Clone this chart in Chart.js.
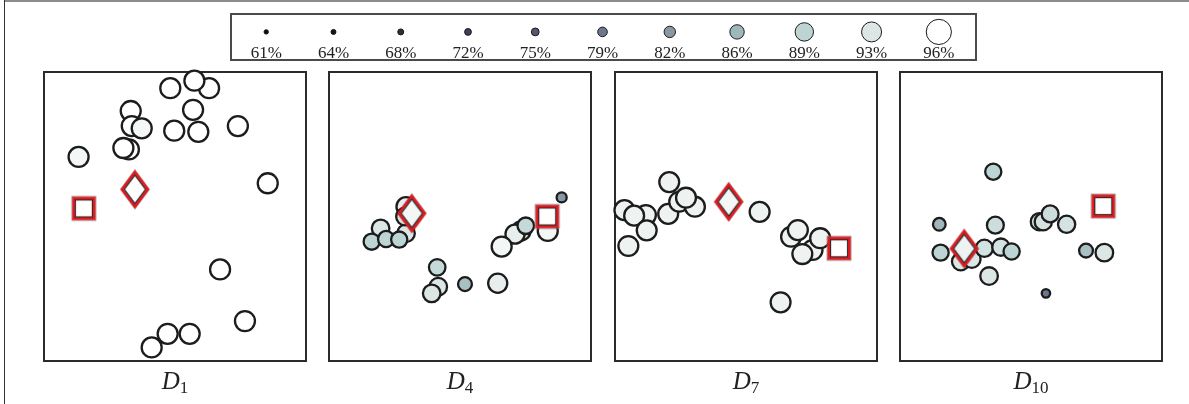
<!DOCTYPE html>
<html><head><meta charset="utf-8">
<script src="https://cdn.jsdelivr.net/npm/chart.js@4.4.1/dist/chart.umd.min.js"></script>
<style>
html,body{margin:0;padding:0;background:#fff;}
#fig{position:relative;width:1189px;height:404px;overflow:hidden;background:#fff;}
.frameTop{position:absolute;left:4px;top:0;width:1185px;height:2px;background:#8c8c8c;}
.frameLeft{position:absolute;left:4px;top:0;width:1px;height:404px;background:#333;}
#legendBox{position:absolute;left:230px;top:13px;width:747px;height:48px;border:2px solid #4a4a4a;box-sizing:border-box;}
.cv{position:absolute;}
.dlab{position:absolute;top:366px;height:30px;line-height:30px;width:262px;text-align:center;font-family:'Liberation Serif','Times New Roman',serif;font-style:italic;font-size:25px;color:#222;white-space:nowrap;}
.dlab sub{font-style:normal;font-size:17px;vertical-align:-4px;line-height:0;}
</style></head>
<body><div id="fig"><div class="frameTop"></div><div class="frameLeft"></div><div id="legendBox"></div></div>
<script>
// ---- legend bins ----
const legendLevels = [61, 64, 68, 72, 75, 79, 82, 86, 89, 93, 96];
const legendLabels = ['61%', '64%', '68%', '72%', '75%', '79%', '82%', '86%', '89%', '93%', '96%'];
const legendColors = ['#0a0a0a', '#15151c', '#2d2d3e', '#3f4058', '#55566f', '#6d778d', '#8898a4', '#9fb6bb', '#bdd4d4', '#dce6e5', '#ffffff'];
const legendRadii = [2.2, 2.5, 3, 3.4, 3.9, 4.8, 5.7, 7.2, 9.2, 10, 12.6];

// ---- panels (x, y in 0..100 of each panel, value in %) ----
const panelNames = ['1', '4', '7', '10'];

const p1X = [63.0, 57.4, 48.2, 56.9, 33.1, 33.5, 37.3, 49.7, 58.9, 74.0, 32.4, 30.3, 13.2, 85.4, 67.2, 76.7, 47.2, 55.6, 41.1];
const p1Y = [94.4, 97.0, 94.4, 86.9, 86.5, 81.3, 80.5, 79.7, 79.3, 81.3, 73.2, 73.7, 70.6, 61.5, 31.7, 13.8, 9.4, 9.4, 4.7];
const p1V = [96, 96, 96, 96, 96, 96, 95, 96, 96, 96, 96, 96, 95, 96, 96, 96, 96, 96, 96];

const p2X = [19.7, 16.3, 21.8, 29.4, 26.8, 29.4, 29.0, 88.8, 83.5, 73.3, 71.0, 75.1, 65.9, 41.3, 41.7, 39.2, 51.9, 64.4];
const p2Y = [45.9, 41.3, 42.2, 44.2, 42.0, 53.4, 50.0, 56.6, 45.0, 45.0, 43.9, 46.8, 39.6, 32.4, 25.7, 23.4, 26.6, 26.9];
const p2V = [93, 89, 89, 93, 89, 94, 93, 82, 95, 94, 94, 90, 95, 90, 93, 93, 87, 94];

const p3X = [20.7, 3.6, 11.8, 7.3, 12.1, 5.1, 20.3, 24.5, 30.5, 27.1, 55.2, 67.2, 69.8, 75.4, 78.3, 71.5, 63.2];
const p3Y = [61.9, 52.2, 50.5, 50.3, 45.2, 39.8, 50.9, 55.1, 53.4, 56.5, 51.6, 43.0, 45.3, 38.4, 42.5, 37.0, 20.3];
const p3V = [94.5, 94.5, 94.5, 94.5, 94.5, 94.5, 94.5, 94.5, 94.5, 94.5, 94.5, 94.5, 94.5, 94.5, 94.5, 94.5, 94.5];

const p4X = [35.6, 15.0, 36.4, 53.2, 54.7, 57.3, 63.6, 15.5, 23.2, 27.4, 32.2, 38.5, 42.6, 34.0, 55.7, 71.0, 78.0];
const p4Y = [65.5, 47.3, 47.0, 48.2, 48.2, 50.9, 47.3, 37.5, 34.4, 35.3, 39.0, 39.4, 37.9, 29.4, 23.4, 38.2, 37.5];
const p4V = [89, 86, 91, 92, 92, 91, 92, 89, 93, 93, 92, 92, 89, 93, 79, 87, 93];

const diamondX = [34.7, 31.6, 43.4, 24.5];
const diamondY = [59.4, 51.1, 55.1, 38.9];
const diamondV = [96, 95, 95, 94.5];
const squareX = [15.2, 83.3, 85.5, 77.6];
const squareY = [52.8, 50.0, 39.0, 53.6];

const panelX = [p1X, p2X, p3X, p4X];
const panelY = [p1Y, p2Y, p3Y, p4Y];
const panelV = [p1V, p2V, p3V, p4V];

// ---- style helpers ----
function hexToRgb(h){ return [parseInt(h.slice(1,3),16), parseInt(h.slice(3,5),16), parseInt(h.slice(5,7),16)]; }
function binPos(v){
  if (v <= legendLevels[0]) return [0, 0];
  for (let i = 0; i < legendLevels.length - 1; i++) {
    if (v <= legendLevels[i+1]) return [i, (v - legendLevels[i]) / (legendLevels[i+1] - legendLevels[i])];
  }
  return [legendLevels.length - 2, 1];
}
function colorFor(v){
  const [i, t] = binPos(v);
  const a = hexToRgb(legendColors[i]), b = hexToRgb(legendColors[i+1]);
  const c = a.map((ai, k) => Math.round(ai + (b[k] - ai) * t));
  return 'rgb(' + c.join(',') + ')';
}
function radiusFor(v){
  const [i, t] = binPos(v);
  const r = legendRadii[i] + (legendRadii[i+1] - legendRadii[i]) * t;
  return Math.min(r * 0.88, 10);
}
const RED = '#e4161e';
function diamondPath(g, cx, cy, hw, hh){
  g.beginPath(); g.moveTo(cx, cy - hh); g.lineTo(cx + hw, cy); g.lineTo(cx, cy + hh); g.lineTo(cx - hw, cy); g.closePath();
}
function diamondImg(fill){
  const c = document.createElement('canvas'); c.width = 32; c.height = 42;
  const g = c.getContext('2d');
  const cx = 16, cy = 21;
  g.lineJoin = 'miter'; g.miterLimit = 10;
  diamondPath(g, cx, cy, 12.8, 17.2);
  g.fillStyle = fill; g.fill();
  g.strokeStyle = 'rgba(80,40,40,0.55)'; g.lineWidth = 3.6; g.stroke();
  g.strokeStyle = RED; g.lineWidth = 2.6; g.stroke();
  diamondPath(g, cx, cy, 10.5, 14.2);
  g.strokeStyle = '#2a2a2a'; g.lineWidth = 1.1; g.stroke();
  return c;
}
function squareImg(){
  const c = document.createElement('canvas'); c.width = 28; c.height = 28;
  const g = c.getContext('2d');
  const s0 = 14 - 10.25, s = 20.5;
  g.fillStyle = '#ffffff'; g.fillRect(s0, s0, s, s);
  g.strokeStyle = '#7a7a7a'; g.lineWidth = 1; g.strokeRect(s0 - 1.6, s0 - 1.6, s + 3.2, s + 3.2);
  g.strokeStyle = RED; g.lineWidth = 2.6; g.strokeRect(s0, s0, s, s);
  g.strokeStyle = '#2a2a2a'; g.lineWidth = 1.1; g.strokeRect(s0 + 1.8, s0 + 1.8, s - 3.6, s - 3.6);
  return c;
}

const fig = document.getElementById('fig');
function mkCanvas(left, top, w, h){
  const c = document.createElement('canvas');
  c.width = w; c.height = h; c.className = 'cv';
  c.style.left = left + 'px'; c.style.top = top + 'px'; c.style.width = w + 'px'; c.style.height = h + 'px';
  fig.appendChild(c); return c;
}

const framePlugin = {
  id: 'frame',
  beforeDatasetsDraw(chart){
    const a = chart.chartArea, ctx = chart.ctx;
    ctx.save(); ctx.strokeStyle = '#2b2b2b'; ctx.lineWidth = 2;
    ctx.strokeRect(a.left, a.top, a.right - a.left, a.bottom - a.top);
    ctx.restore();
  }
};

// ---- legend chart ----
const LG_LEFT = 229, LG_W = 748, LG_FIRST = 24.5, LG_STEP = 69.8;
new Chart(mkCanvas(LG_LEFT, 14, LG_W, 48), {
  type: 'scatter',
  data: { datasets: [{
    data: legendLevels.map((_, i) => ({ x: i, y: 0 })),
    pointBackgroundColor: legendColors,
    pointBorderColor: '#1a1a1a',
    pointBorderWidth: 1,
    pointRadius: legendRadii,
    clip: false
  }]},
  options: {
    responsive: false, animation: false, events: [],
    layout: { padding: { left: 0, right: 0, top: 0, bottom: 0 } },
    plugins: { legend: { display: false }, tooltip: { enabled: false } },
    scales: {
      x: {
        type: 'linear', min: -LG_FIRST / LG_STEP, max: (LG_W - LG_FIRST) / LG_STEP,
        afterBuildTicks: s => { s.ticks = legendLevels.map((_, i) => ({ value: i })); },
        ticks: { callback: v => legendLabels[v], autoSkip: false, maxRotation: 0, padding: 0,
                 font: { family: "'Liberation Serif', 'Times New Roman', serif", size: 17, lineHeight: 1 }, color: '#222' },
        grid: { display: false, drawTicks: false }, border: { display: false }
      },
      y: { display: false, min: -1, max: 0.33 }
    }
  }
});

// ---- panels ----
const panelLeft = [44, 329, 615, 900];
const PANEL_TOP = 72, PANEL_W = 262, PANEL_H = 289, M = 16;
const diamondFill = diamondV.map(colorFor);

for (let p = 0; p < 4; p++) {
  const xs = panelX[p], ys = panelY[p], vs = panelV[p];
  new Chart(mkCanvas(panelLeft[p] - M, PANEL_TOP - M, PANEL_W + 2 * M, PANEL_H + 2 * M), {
    type: 'scatter',
    data: { datasets: [
      { data: [{ x: diamondX[p], y: diamondY[p] }], pointStyle: diamondImg(diamondFill[p]), pointRadius: 10, order: 0, clip: false },
      { data: [{ x: squareX[p], y: squareY[p] }], pointStyle: squareImg(), pointRadius: 10, order: 0, clip: false },
      { data: xs.map((x, i) => ({ x: x, y: ys[i], v: vs[i] })),
        pointBackgroundColor: c => colorFor(c.raw.v),
        pointRadius: c => radiusFor(c.raw.v),
        pointBorderColor: '#1c1c1c', pointBorderWidth: 2.3, order: 1, clip: false }
    ]},
    options: {
      responsive: false, animation: false, events: [],
      layout: { padding: M },
      plugins: { legend: { display: false }, tooltip: { enabled: false } },
      scales: { x: { type: 'linear', min: 0, max: 100, display: false }, y: { type: 'linear', min: 0, max: 100, display: false } }
    },
    plugins: [framePlugin]
  });
  const lab = document.createElement('div');
  lab.className = 'dlab';
  lab.style.left = panelLeft[p] + 'px';
  lab.innerHTML = 'D<sub>' + panelNames[p] + '</sub>';
  fig.appendChild(lab);
}
</script></body></html>
